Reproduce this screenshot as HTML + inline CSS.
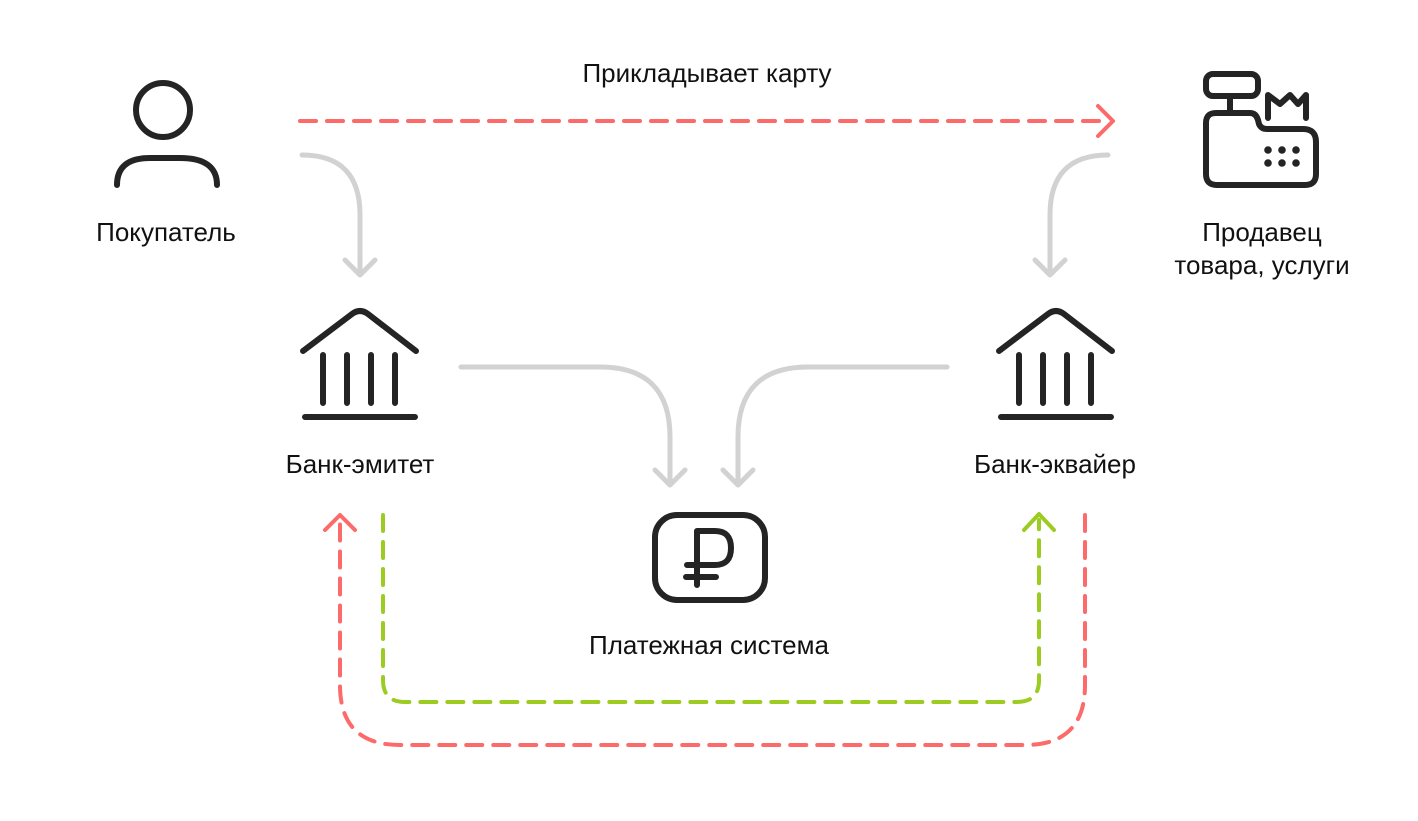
<!DOCTYPE html>
<html><head><meta charset="utf-8"><style>
html,body{margin:0;padding:0;background:#fff;}
svg{display:block}
text{font-family:"Liberation Sans",sans-serif;font-size:26px;fill:#111;text-anchor:middle}
</style></head><body>
<svg width="1418" height="821" viewBox="0 0 1418 821" xmlns="http://www.w3.org/2000/svg">
<g fill="none" stroke-linecap="round" stroke-linejoin="round">
<path d="M300 121 H1110" stroke="#fc6a6a" stroke-width="4" stroke-dasharray="16 11"/>
<path d="M1098 106 L1113 121 L1098 136" stroke="#fc6a6a" stroke-width="4"/>
<g stroke="#d2d2d2" stroke-width="5">
<path d="M302 155 Q360 155 360 215 V272"/>
<path d="M345 260 L360 275 L375 260"/>
<path d="M1108 155 Q1050 155 1050 215 V272"/>
<path d="M1035 260 L1050 275 L1065 260"/>
<path d="M461 367 H600 Q670 367 670 437 V485"/>
<path d="M655 470 L670 485 L685 470"/>
<path d="M947 367 H808 Q738 367 738 437 V485"/>
<path d="M723 470 L738 485 L753 470"/>
</g>
<path d="M1085 515 V685 Q1085 745 1025 745 H400 Q340 745 340 685 V523" stroke="#fc6a6a" stroke-width="4" stroke-dasharray="16 11"/>
<path d="M325 530 L340 515 L355 530" stroke="#fc6a6a" stroke-width="4"/>
<path d="M383 515 V680 Q383 702 405 702 H1017 Q1039 702 1039 680 V520" stroke="#9ccc22" stroke-width="4" stroke-dasharray="16 11"/>
<path d="M1024 530 L1039 514 L1054 530" stroke="#9ccc22" stroke-width="4"/>
<g stroke="#242424" stroke-width="6">
<circle cx="163" cy="110" r="27"/>
<path d="M117 185 Q117 158 150 158 H180 Q217 158 217 185"/>
<path d="M303 351 L352 314 Q360 308 368 314 L416 351"/>
<path d="M323 355 V403 M347 355 V403 M371 355 V403 M395 355 V403 M305 417 H415"/>
<path d="M999 351 L1048 314 Q1056 308 1064 314 L1112 351"/>
<path d="M1019 355 V403 M1043 355 V403 M1067 355 V403 M1091 355 V403 M1001 417 H1111"/>
<rect x="655" y="515" width="110" height="85" rx="22"/>
<path d="M697 585 V531 H715 Q731 531 731 548 Q731 565 715 565 H687 M686 577 H716"/>
<rect x="1206" y="74" width="52" height="22" rx="7"/>
<path d="M1230 96 V113"/>
<path d="M1216 113 H1250 Q1256 113 1258 120 L1259 124 Q1261 129 1267 129 H1303 Q1316 129 1316 142 V174 Q1316 185 1305 185 H1217 Q1206 185 1206 174 V123 Q1206 113 1216 113 Z"/>
<path d="M1268 118 V95 L1280 104 L1290 95 L1298 104 L1306 95 V118"/>
</g>
<g fill="#242424">
<circle cx="1268" cy="150" r="3.8"/><circle cx="1282" cy="150" r="3.8"/><circle cx="1296" cy="150" r="3.8"/>
<circle cx="1268" cy="163" r="3.8"/><circle cx="1282" cy="163" r="3.8"/><circle cx="1296" cy="163" r="3.8"/>
</g>
</g>
<text x="707" y="82">Прикладывает карту</text>
<text x="166" y="241">Покупатель</text>
<text x="1262" y="241">Продавец</text>
<text x="1262" y="274">товара, услуги</text>
<text x="360" y="473">Банк-эмитет</text>
<text x="1055" y="473">Банк-эквайер</text>
<text x="709" y="654">Платежная система</text>
</svg>
</body></html>
